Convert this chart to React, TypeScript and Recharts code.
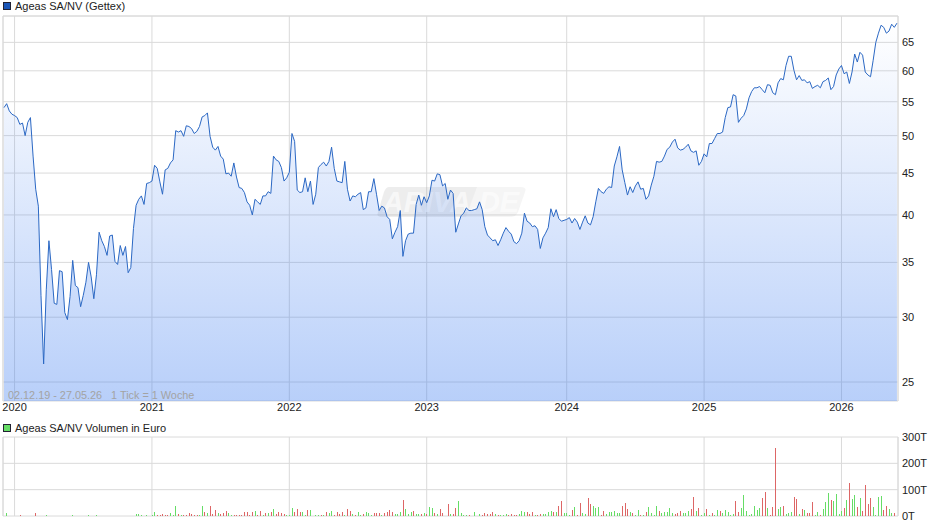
import { ComposedChart, BarChart, Area, Line, Bar, XAxis, YAxis, CartesianGrid, ReferenceLine } from "recharts";

// weekly closing prices, 02.12.19 - 27.05.26
const prices = [
  54.1, 54.7, 53.6, 53.1, 52.9, 52.6, 51.6, 51.8, 50, 51.9, 52.6, 47.2, 43, 41, 31.9, 26.3, 32.4, 37.2, 34.3, 31.2,
  31.1, 34.2, 34.1, 30.4, 29.8, 31.8, 35.2, 32.8, 32.6, 30.9, 31.9, 33.1, 35, 33.6, 31.6, 33.8, 38.1, 37.2, 36.6, 35.7,
  37.7, 37.8, 35.1, 34.8, 36.7, 35.7, 36.6, 34, 34.5, 38.5, 41.1, 41.8, 42.2, 41.2, 43.7, 43.8, 44, 46, 45.6, 43.9,
  42.4, 45.4, 45.6, 46.3, 46.7, 50.7, 50.5, 50.7, 49.9, 51.4, 51.3, 51, 50.3, 50.6, 51.3, 52.7, 52.9, 53.3, 49.9, 48.4,
  48, 48.5, 47.2, 46.8, 44.9, 45, 44.6, 46.3, 44.5, 43.2, 43.1, 42.6, 41.5, 41.1, 40, 41.8, 41.5, 41.2, 42.2, 42.2,
  42.7, 42.5, 47.2, 46.7, 46.5, 45.7, 44, 44.4, 45.1, 50.3, 49.2, 42.9, 42.6, 42.7, 44.4, 42.7, 44, 41.2, 42.4, 45.7,
  46.1, 46.4, 45.9, 46.5, 48.4, 45.6, 44, 43.9, 43.8, 46.5, 43, 41.6, 42.2, 42.1, 42.4, 42.6, 40.6, 40.8, 42.7, 42.7,
  44.3, 42.4, 40.5, 41, 40.8, 39.8, 39.5, 37.4, 38.1, 38.7, 40.5, 35.6, 37.2, 37.9, 38, 38, 41.2, 42.3, 41.1, 42.1,
  41.4, 42.2, 44.1, 44, 44.9, 44.8, 43.4, 43.7, 41.8, 42.9, 42.5, 38.1, 39, 39.9, 40.2, 40.8, 40.5, 40.5, 40.6, 40.7,
  41.5, 40.6, 38.7, 37.8, 37.5, 37.2, 37.3, 36.7, 37.3, 38, 38.6, 38.2, 37.9, 37.1, 36.9, 37.2, 38, 40.2, 39.3, 39.1,
  38.7, 38.8, 38.4, 36.4, 37.5, 38, 38.6, 40.7, 39.8, 40.6, 39.6, 39.3, 39.4, 39.5, 39.7, 39.1, 39.6, 39.2, 38.4, 39.2,
  39.9, 39.1, 38.9, 39.8, 41.5, 43.1, 42.7, 42.5, 43, 43.3, 43.2, 45.9, 47.1, 48.5, 45.4, 43.8, 42.3, 43.3, 42.6, 43.4,
  43.9, 43, 43.1, 41.8, 42.2, 43.5, 44.6, 46.5, 46.4, 46.5, 47.2, 48.1, 48.4, 49.1, 49.5, 48.3, 48, 48.1, 48.4, 48.8,
  47.9, 47.7, 47.9, 46, 46.5, 47.5, 47.1, 48.9, 48.9, 49.6, 50.3, 50.3, 50.5, 52.6, 54.1, 54.2, 56.1, 55.9, 51.9, 52.5,
  52.9, 53.9, 55.6, 56.6, 57.2, 57.2, 57.4, 56.9, 56.4, 57.7, 57.6, 56.4, 56.1, 58, 58.7, 58.5, 60.9, 62.5, 62.5, 60.1,
  58.5, 59.2, 58.4, 58.5, 58, 58.2, 57.1, 57.4, 57.6, 57.2, 58.2, 58.4, 58.8, 56.9, 57.4, 59.3, 60.3, 60.9, 59.5, 59.8,
  57.9, 59.8, 62.9, 61.5, 63.2, 62.7, 59.8, 59.3, 59, 61.8, 65, 66.7, 68.2, 67.8, 66.7, 67.1, 68.4, 67.8, 68.6,
];

// weekly volume in thousand euro, positive = green bar, negative = red bar
const volumes = [
  0, 13, 0, 0, 0, 0, -2, 0, 0, 0, 0, 0, -13, 0, 0, 0, 2, 0, 0, 0,
  0, 0, 0, 0, 0, 0, 2, 0, 0, 0, 0, 0, 2, 0, 0, 5, 0, 0, 0, 0,
  0, 0, 0, 0, 0, 0, 0, 0, 0, 0, 9, 6, 2, 0, 5, 0, 5, 16, -5, -5,
  -8, -2, -5, 13, 3, 39, -9, 2, -5, -5, -11, -8, -4, -3, 5, 39, -16, 13, -39, -9,
  -24, 13, -9, -11, -20, 13, 5, -3, -5, -5, -5, -16, -16, -5, -16, 20, -5, -20, 2, -13,
  13, -16, 28, -9, -16, -13, -9, 5, 2, 32, -16, -28, -16, 16, 5, -24, 24, 0, 5, 5,
  -3, 3, -16, 10, 20, -2, -16, -9, -16, 5, -28, -20, 9, -5, 16, 2, -9, 16, 13, 2,
  -13, -13, -13, 5, -13, -16, -24, -16, 9, 9, 16, -62, 28, 9, 16, -20, 9, 9, -9, 13,
  -9, 35, 32, -13, 9, -28, -13, 0, -47, 9, -9, -32, 58, 13, 5, 5, -3, 0, 16, 0,
  8, -5, -13, -9, -9, -16, 9, -3, 5, 3, 9, -2, -9, -5, -5, 9, 20, 16, -16, -9,
  -16, 2, -2, -9, 9, 9, 16, 20, -16, 16, -39, -58, 13, 13, 5, -24, 35, -2, -50, 13,
  9, -70, -47, 39, 32, 35, -5, -20, 9, 16, 16, 20, 13, 13, -39, -50, -28, 16, -13, 5,
  24, -5, 5, -16, 35, 13, 5, 39, -20, 13, 16, 16, 32, 13, -9, -13, -20, 13, 13, 20,
  -28, -73, 20, -32, 5, 13, -28, 5, -13, 2, 24, -20, 13, 24, 16, 5, 9, -58, -16, 32,
  81, 20, 5, 9, 39, 24, 32, -70, -92, 32, -5, -35, -260, 28, 35, -39, 9, 13, 16, -73,
  -66, 9, -28, 24, -13, -13, -54, 5, 16, -5, 28, 54, 88, -62, 58, 85, 9, 20, -32, 62,
  -125, 66, 81, -35, 70, -20, -119, -47, -70, 35, 5, 73, 77, -24, -39, 28, 13, -13, 0,
];

const yearTicks = [4, 56, 108, 160, 213, 265, 317];
const yearLabels = ["2020", "2021", "2022", "2023", "2024", "2025", "2026"];
const priceTicks = [25, 30, 35, 40, 45, 50, 55, 60, 65];
const volumeTicks = [0, 100, 200, 300];

const xDomain: [number, number] = [-0.38, 338.4];
const priceDomain: [number, number] = [23.7, 70];

const FONT = '"Liberation Sans", Arial, sans-serif';
const GRID = "#dadada";
const tickStyle = { fill: "#222", fontSize: 11, fontFamily: FONT };

const priceData = prices.map((price, week) => ({ week, price }));
const volumeData = volumes.map((v, week) => ({
  week,
  up: v > 0 ? v : null,
  down: v < 0 ? -v : null,
}));

function yearLabel(week: number) {
  return yearLabels[yearTicks.indexOf(week)];
}

function LegendRow({ top, color, label }: { top: number; color: string; label: string }) {
  return (
    <div style={{ position: "absolute", left: 3, top, display: "flex", alignItems: "center", height: 12 }}>
      <div style={{ width: 6, height: 6, background: color, border: "1px solid #223", marginRight: 4 }} />
      <span style={{ fontFamily: FONT, fontSize: 11, color: "#222", whiteSpace: "pre" }}>{label}</span>
    </div>
  );
}

export default function App() {
  return (
    <div style={{ position: "absolute", left: 0, top: 0, width: 940, height: 526, background: "#fff", overflow: "hidden" }}>
      <LegendRow top={0} color="#1a56b8" label="Ageas SA/NV (Gettex)" />
      <LegendRow top={422} color="#66dd66" label="Ageas SA/NV Volumen in Euro" />

      <div style={{ position: "absolute", left: 0, top: 0 }}>
        <ComposedChart width={940} height={420} data={priceData} margin={{ top: 16, right: 0, bottom: 0, left: 3 }}>
          <defs>
            <linearGradient id="priceFill" x1="0" y1="0" x2="0" y2="1">
              <stop offset="0%" stopColor="#3a7af0" stopOpacity={0} />
              <stop offset="100%" stopColor="#3a7af0" stopOpacity={0.36} />
            </linearGradient>
          </defs>
          <CartesianGrid stroke={GRID} strokeWidth={1} />
          <XAxis
            dataKey="week"
            type="number"
            domain={xDomain}
            ticks={yearTicks}
            tickFormatter={yearLabel}
            interval={0}
            axisLine={false}
            tickLine={false}
            tickSize={0}
            tickMargin={2}
            height={19}
            tick={tickStyle}
          />
          <YAxis
            orientation="right"
            scale="log"
            domain={priceDomain}
            ticks={priceTicks}
            interval={0}
            axisLine={false}
            tickLine={false}
            tickSize={2}
            tickMargin={2}
            width={42}
            tick={tickStyle}
          />
          <ReferenceLine y={priceDomain[1]} stroke={GRID} />
          <ReferenceLine x={xDomain[0]} stroke={GRID} />
          <ReferenceLine x={xDomain[1]} stroke={GRID} />
          <Area
            dataKey="price"
            type="linear"
            baseValue={priceDomain[0]}
            stroke="none"
            fill="url(#priceFill)"
            fillOpacity={1}
            dot={false}
            activeDot={false}
            isAnimationActive={false}
          />
          <g>
            <path d="M389 187 H521 Q527 187 525 192 L518 212 Q516 217 510 217 H382 Q376 217 378 212 L384 192 Q386 187 389 187 Z" fill="#9a9a9a" fillOpacity={0.1} />
            <path d="M389 187 H477 L466 217 H382 Q376 217 378 212 L384 192 Q386 187 389 187 Z" fill="#9a9a9a" fillOpacity={0.08} />
            <text x={451} y={212} textAnchor="middle" fontFamily={FONT} fontSize={29} fontWeight="bold" fontStyle="italic" fill="#fff" fillOpacity={0.6}>
              ARIVA.DE
            </text>
          </g>
          <Line dataKey="price" type="linear" stroke="#2b68c4" strokeWidth={1} dot={false} activeDot={false} isAnimationActive={false} />
        </ComposedChart>
      </div>

      <div style={{ position: "absolute", left: 8, top: 389, fontFamily: FONT, fontSize: 10.85, color: "#a3a3a3", whiteSpace: "pre" }}>
        {"02.12.19 - 27.05.26   1 Tick = 1 Woche"}
      </div>

      <div style={{ position: "absolute", left: 0, top: 420 }}>
        <BarChart width={940} height={106} data={volumeData} barSize={1} margin={{ top: 17, right: 0, bottom: 10, left: 3 }}>
          <CartesianGrid stroke={GRID} strokeWidth={1} />
          <XAxis dataKey="week" type="number" domain={xDomain} ticks={yearTicks} hide />
          <YAxis
            orientation="right"
            domain={[0, 300]}
            ticks={volumeTicks}
            interval={0}
            tickFormatter={(v: number) => `${v}T`}
            axisLine={false}
            tickLine={false}
            tickSize={2}
            tickMargin={2}
            width={42}
            tick={tickStyle}
          />
          <ReferenceLine x={xDomain[0]} stroke={GRID} />
          <ReferenceLine x={xDomain[1]} stroke={GRID} />
          <Bar dataKey="up" stackId="v" fill="#66dd66" shapeRendering="crispEdges" isAnimationActive={false} />
          <Bar dataKey="down" stackId="v" fill="#dd6666" shapeRendering="crispEdges" isAnimationActive={false} />
        </BarChart>
      </div>
    </div>
  );
}
